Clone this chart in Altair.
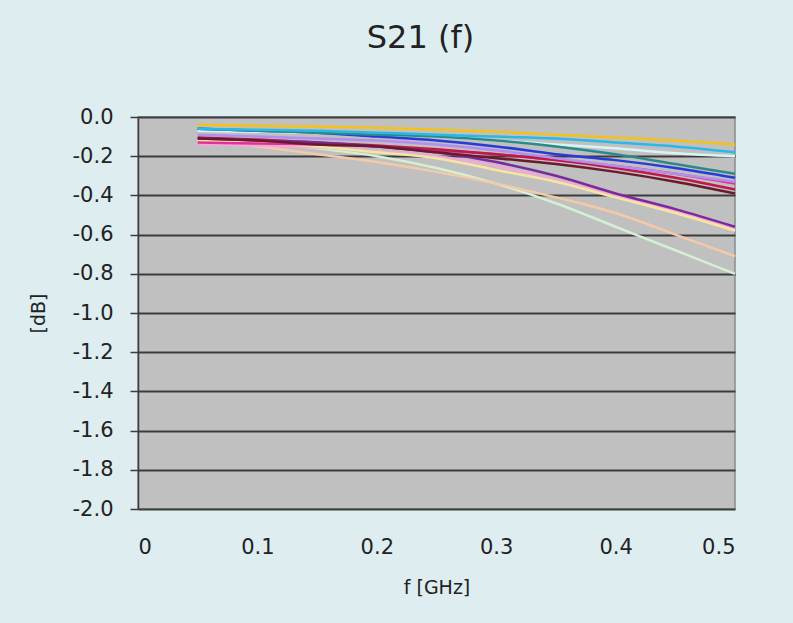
import altair as alt
import pandas as pd

# frequency points [GHz]
freq = [0.05, 0.10, 0.15, 0.20, 0.25, 0.30, 0.35, 0.40, 0.45, 0.50]

# S21 [dB] per trace
light_green = [-0.12, -0.13, -0.16, -0.20, -0.26, -0.34, -0.44, -0.56, -0.68, -0.80]
peach       = [-0.13, -0.15, -0.19, -0.23, -0.28, -0.34, -0.41, -0.49, -0.60, -0.71]
pink        = [-0.14, -0.145, -0.155, -0.175, -0.20, -0.25, -0.32, -0.40, -0.48, -0.57]
light_yel   = [-0.12, -0.13, -0.15, -0.18, -0.21, -0.27, -0.33, -0.41, -0.49, -0.58]
magenta     = [-0.13, -0.135, -0.14, -0.15, -0.17, -0.19, -0.22, -0.25, -0.29, -0.34]
crimson     = [-0.105, -0.115, -0.13, -0.145, -0.165, -0.19, -0.22, -0.26, -0.31, -0.37]
purple      = [-0.11, -0.12, -0.13, -0.15, -0.18, -0.23, -0.30, -0.39, -0.47, -0.56]
maroon      = [-0.11, -0.12, -0.14, -0.15, -0.18, -0.21, -0.24, -0.28, -0.33, -0.39]
lavender    = [-0.09, -0.10, -0.11, -0.12, -0.14, -0.17, -0.21, -0.25, -0.29, -0.33]
light_cyan  = [-0.07, -0.075, -0.08, -0.09, -0.10, -0.12, -0.14, -0.16, -0.185, -0.20]
blue        = [-0.06, -0.07, -0.08, -0.10, -0.12, -0.15, -0.19, -0.22, -0.26, -0.31]
teal        = [-0.06, -0.07, -0.08, -0.09, -0.10, -0.12, -0.15, -0.19, -0.24, -0.29]
cyan        = [-0.06, -0.065, -0.07, -0.08, -0.09, -0.10, -0.11, -0.13, -0.15, -0.18]
gold        = [-0.04, -0.045, -0.05, -0.055, -0.065, -0.075, -0.09, -0.105, -0.12, -0.14]

series = [
    ("A", light_green, "#d4f0d2"),
    ("B", peach, "#f5c9a8"),
    ("C", pink, "#f2a9d8"),
    ("D", light_yel, "#f3e6a2"),
    ("E", magenta, "#e2309c"),
    ("F", crimson, "#c0184a"),
    ("G", purple, "#7b2a9e"),
    ("H", maroon, "#6a1a2c"),
    ("I", lavender, "#b58cf0"),
    ("J", light_cyan, "#d8f4f8"),
    ("K", blue, "#2a3ad8"),
    ("L", teal, "#2a8a8a"),
    ("M", cyan, "#2ab8e8"),
    ("N", gold, "#f2c21c"),
]

rows = []
for name, vals, _ in series:
    for f, v in zip(freq, vals):
        rows.append({"f": f, "dB": v, "trace": name})
df = pd.DataFrame(rows)

names = [s[0] for s in series]
colors = [s[2] for s in series]

FONT = "DejaVu Sans"

chart = alt.Chart(df).mark_line(strokeWidth=2.5, interpolate="monotone").encode(
    x=alt.X("f:Q", scale=alt.Scale(domain=[0, 0.5], nice=False),
            axis=alt.Axis(title="f [GHz]", values=[0, 0.1, 0.2, 0.3, 0.4, 0.5],
                          labelExpr="datum.value == 0 ? '0' : format(datum.value, '.1f')",
                          grid=False, ticks=False, domain=False,
                          labelFont=FONT, labelFontSize=21, labelColor="#222222",
                          titleFont=FONT, titleFontSize=19, titleColor="#222222",
                          titleFontWeight="normal",
                          labelPadding=27, titlePadding=21)),
    y=alt.Y("dB:Q", scale=alt.Scale(domain=[-2.0, 0.0], nice=False),
            axis=alt.Axis(title="[dB]", values=[round(-0.2 * i, 1) for i in range(11)],
                          labelExpr="replace(format(datum.value, '.1f'), '\u2212', '-')",
                          grid=True, gridColor="#3c3c3c", gridWidth=2,
                          ticks=True, tickSize=8, tickColor="#3c3c3c", tickWidth=1.5,
                          domain=True, domainColor="#3c3c3c", domainWidth=1.5,
                          labelFont=FONT, labelFontSize=21, labelColor="#222222",
                          titleFont=FONT, titleFontSize=19, titleColor="#222222",
                          titleFontWeight="normal",
                          labelPadding=17, titlePadding=24)),
    color=alt.Color("trace:N", scale=alt.Scale(domain=names, range=colors), legend=None),
    order=alt.Order("trace:N"),
).properties(
    width=597,
    height=392,
    title=alt.TitleParams("S21 (f)", fontSize=32, font=FONT, fontWeight="normal",
                          color="#222222", offset=51, dx=-16),
    autosize=alt.AutoSizeParams(type="none"),
    padding={"left": 138, "top": 117, "right": 58, "bottom": 114},
    background="#ddedf0",
).configure_view(
    fill="#c0c0c0", stroke="#8a8a8a", strokeWidth=1.5,
)

chart.save("out.html", embed_options={"renderer": "svg", "actions": False})
